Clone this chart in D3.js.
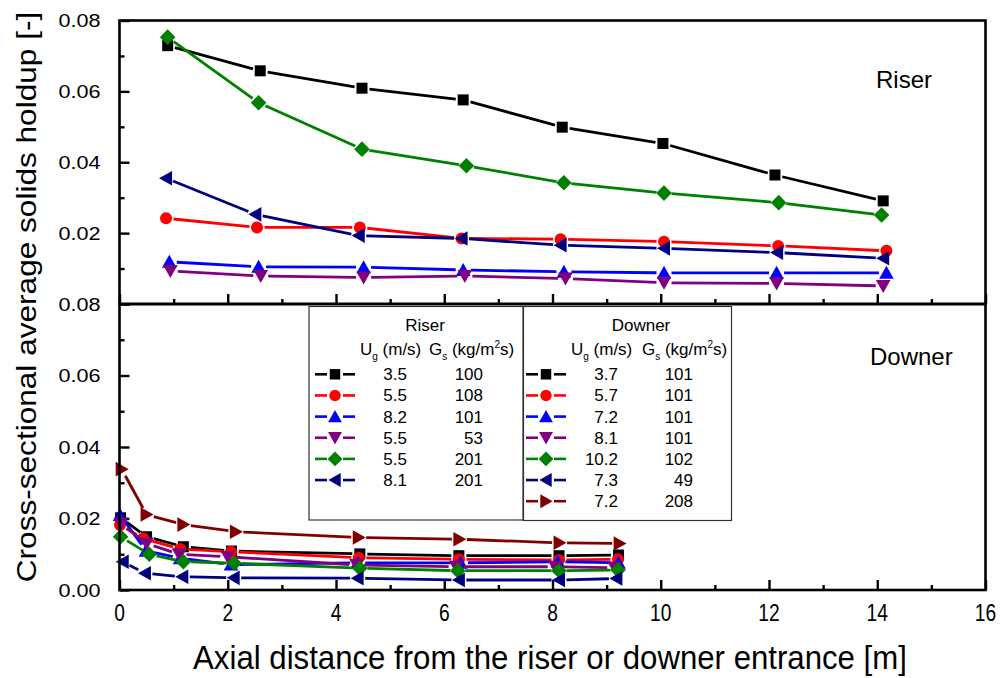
<!DOCTYPE html>
<html>
<head>
<meta charset="utf-8">
<script src="https://cdn.jsdelivr.net/npm/d3@7/dist/d3.min.js"></script>
<style>
  html, body { margin: 0; padding: 0; background: #fff; }
  svg { display: block; font-family: "Liberation Sans", Arial, sans-serif; }
</style>
</head>
<body>
<svg id="chart" width="1003" height="678"></svg>
<script>
// ---- Data: riser (upper panel) ----
const riserBlackX  = [0.89, 2.60, 4.48, 6.35, 8.18, 10.04, 12.11, 14.11];
const riserBlackY  = [0.0729, 0.0658, 0.0609, 0.0576, 0.0499, 0.0453, 0.0364, 0.0291];
const riserRedX    = [0.86, 2.54, 4.44, 6.32, 8.15, 10.06, 12.17, 14.17];
const riserRedY    = [0.0242, 0.0216, 0.0216, 0.0185, 0.0183, 0.0176, 0.0164, 0.0150];
const riserBlueX   = [0.92, 2.57, 4.51, 6.35, 8.21, 10.06, 12.14, 14.17];
const riserBlueY   = [0.0119, 0.0105, 0.0104, 0.0096, 0.0091, 0.0088, 0.0088, 0.0088];
const riserPurpleX = [0.94, 2.61, 4.51, 6.38, 8.24, 10.06, 12.14, 14.11];
const riserPurpleY = [0.0093, 0.0079, 0.0075, 0.0079, 0.0072, 0.0060, 0.0058, 0.0051];
const riserGreenX  = [0.89, 2.57, 4.48, 6.41, 8.21, 10.06, 12.18, 14.08];
const riserGreenY  = [0.0753, 0.0568, 0.0437, 0.0390, 0.0342, 0.0313, 0.0286, 0.0251];
const riserNavyX   = [0.86, 2.51, 4.42, 6.32, 8.15, 10.06, 12.15, 14.11];
const riserNavyY   = [0.0355, 0.0253, 0.0193, 0.0185, 0.0166, 0.0157, 0.0145, 0.0129];

// ---- Data: downer (lower panel) ----
const downerBlackX  = [0.02, 0.50, 1.18, 2.07, 4.44, 6.27, 8.12, 9.22];
const downerBlackY  = [0.0202, 0.0149, 0.0121, 0.0109, 0.0101, 0.0096, 0.0096, 0.0098];
const downerRedX    = [0.01, 0.44, 1.12, 2.06, 4.42, 6.27, 8.12, 9.21];
const downerRedY    = [0.0182, 0.0144, 0.0115, 0.0107, 0.0090, 0.0086, 0.0084, 0.0086];
const downerBlueX   = [0.01, 0.49, 1.12, 2.06, 4.40, 6.30, 8.10, 9.22];
const downerBlueY   = [0.0210, 0.0110, 0.0089, 0.0071, 0.0076, 0.0076, 0.0079, 0.0076];
const downerPurpleX = [0.03, 0.50, 1.10, 2.00, 4.38, 6.22, 8.05, 9.15];
const downerPurpleY = [0.0186, 0.0130, 0.0100, 0.0093, 0.0070, 0.0065, 0.0065, 0.0062];
const downerGreenX  = [0.02, 0.55, 1.18, 2.12, 4.44, 6.25, 8.12, 9.21];
const downerGreenY  = [0.0149, 0.0100, 0.0079, 0.0075, 0.0061, 0.0054, 0.0054, 0.0056];
const downerNavyX   = [0.06, 0.47, 1.16, 2.11, 4.40, 6.27, 8.12, 9.18];
const downerNavyY   = [0.0079, 0.0047, 0.0037, 0.0034, 0.0033, 0.0028, 0.0028, 0.0032];
const downerMaroonX = [0.04, 0.50, 1.18, 2.15, 4.42, 6.28, 8.13, 9.24];
const downerMaroonY = [0.0338, 0.0211, 0.0183, 0.0163, 0.0147, 0.0142, 0.0132, 0.0130];

// ---- Legend entries ----
const riserUg   = ["3.5", "5.5", "8.2", "5.5", "5.5", "8.1"];
const riserGs   = ["100", "108", "101", "53", "201", "201"];
const downerUg  = ["3.7", "5.7", "7.2", "8.1", "10.2", "7.3", "7.2"];
const downerGs  = ["101", "101", "101", "101", "102", "49", "208"];

// ---- Axis ticks ----
const xTicks = [0, 2, 4, 6, 8, 10, 12, 14, 16];
const xMinorTicks = [1, 3, 5, 7, 9, 11, 13, 15];
const yTicks = [0, 0.02, 0.04, 0.06, 0.08];
const yMinorTicks = [0.01, 0.03, 0.05, 0.07];

const colors = {
  black: "#000000", red: "#ff0000", blue: "#0000ff", purple: "#800080",
  green: "#008000", navy: "#000080", maroon: "#800000"
};

const riserSeries = [
  { x: riserBlackX,  y: riserBlackY,  color: colors.black,  shape: "square" },
  { x: riserRedX,    y: riserRedY,    color: colors.red,    shape: "circle" },
  { x: riserBlueX,   y: riserBlueY,   color: colors.blue,   shape: "up" },
  { x: riserPurpleX, y: riserPurpleY, color: colors.purple, shape: "down" },
  { x: riserGreenX,  y: riserGreenY,  color: colors.green,  shape: "diamond" },
  { x: riserNavyX,   y: riserNavyY,   color: colors.navy,   shape: "left" }
];
const downerSeries = [
  { x: downerBlackX,  y: downerBlackY,  color: colors.black,  shape: "square" },
  { x: downerRedX,    y: downerRedY,    color: colors.red,    shape: "circle" },
  { x: downerBlueX,   y: downerBlueY,   color: colors.blue,   shape: "up" },
  { x: downerPurpleX, y: downerPurpleY, color: colors.purple, shape: "down" },
  { x: downerGreenX,  y: downerGreenY,  color: colors.green,  shape: "diamond" },
  { x: downerNavyX,   y: downerNavyY,   color: colors.navy,   shape: "left" },
  { x: downerMaroonX, y: downerMaroonY, color: colors.maroon, shape: "right" }
];

// ---- Geometry ----
const svg = d3.select("#chart");
const left = 119.5, right = 985.5;
const topPanel = { top: 20.5, bottom: 304 };
const botPanel = { top: 304, bottom: 590 };

const x = d3.scaleLinear().domain([0, 16]).range([left, right]);
const yTop = d3.scaleLinear().domain([0, 0.08]).range([topPanel.bottom, topPanel.top]);
const yBot = d3.scaleLinear().domain([0, 0.08]).range([botPanel.bottom, botPanel.top]);

// marker outlines centred on (0,0)
function markerPath(shape) {
  switch (shape) {
    case "square":  return "M-5.5,-5.5H5.5V5.5H-5.5Z";
    case "circle":  return d3.symbol(d3.symbolCircle, Math.PI * 6 * 6)();
    case "up":      return "M0,-7L7.3,6L-7.3,6Z";
    case "down":    return "M0,7L7.3,-6L-7.3,-6Z";
    case "left":    return "M-7,0L6,-7.3L6,7.3Z";
    case "right":   return "M7,0L-6,-7.3L-6,7.3Z";
    case "diamond": return "M0,-7.8L7.8,0L0,7.8L-7.8,0Z";
  }
}

const GAP = 7.5; // line is broken around each symbol

function drawSeries(g, s, yScale) {
  const pts = s.x.map((v, i) => [x(v), yScale(s.y[i])]);
  const segs = [];
  for (let i = 0; i < pts.length - 1; i++) {
    const [x1, y1] = pts[i], [x2, y2] = pts[i + 1];
    const len = Math.hypot(x2 - x1, y2 - y1);
    if (len <= 2 * GAP) continue;
    const ux = (x2 - x1) / len, uy = (y2 - y1) / len;
    segs.push([[x1 + ux * GAP, y1 + uy * GAP], [x2 - ux * GAP, y2 - uy * GAP]]);
  }
  const line = d3.line();
  g.append("g").selectAll("path").data(segs).join("path")
    .attr("d", d => line(d))
    .attr("fill", "none").attr("stroke", s.color).attr("stroke-width", 2.8);
  g.append("g").selectAll("path").data(pts).join("path")
    .attr("transform", d => `translate(${d[0]},${d[1]})`)
    .attr("d", markerPath(s.shape))
    .attr("fill", s.color);
}

function drawPanel(panel, yScale, series, showZeroLabel) {
  const g = svg.append("g");
  // inward ticks on the bottom axis
  const xAx = d3.axisTop(x).tickValues(xTicks).tickSize(10).tickFormat("");
  const xAxMinor = d3.axisTop(x).tickValues(xMinorTicks).tickSize(5).tickFormat("");
  g.append("g").attr("transform", `translate(0,${panel.bottom})`).call(xAx)
    .call(a => a.select(".domain").remove())
    .selectAll("line").attr("stroke", "#000").attr("stroke-width", 2.4);
  g.append("g").attr("transform", `translate(0,${panel.bottom})`).call(xAxMinor)
    .call(a => a.select(".domain").remove())
    .selectAll("line").attr("stroke", "#000").attr("stroke-width", 2.4);
  // inward ticks on the left axis
  const yAx = d3.axisRight(yScale).tickValues(yTicks).tickSize(10).tickFormat("");
  const yAxMinor = d3.axisRight(yScale).tickValues(yMinorTicks).tickSize(5).tickFormat("");
  g.append("g").attr("transform", `translate(${left},0)`).call(yAx)
    .call(a => a.select(".domain").remove())
    .selectAll("line").attr("stroke", "#000").attr("stroke-width", 2.4);
  g.append("g").attr("transform", `translate(${left},0)`).call(yAxMinor)
    .call(a => a.select(".domain").remove())
    .selectAll("line").attr("stroke", "#000").attr("stroke-width", 2.4);

  // tick labels (wide face)
  const labels = showZeroLabel ? yTicks : yTicks.filter(v => v > 0);
  g.append("g").selectAll("text").data(labels).join("text")
    .attr("transform", v => `translate(100.5,${yScale(v) + 6.5}) scale(1.2,1)`)
    .attr("text-anchor", "end").attr("font-size", 18).attr("fill", "#000")
    .text(v => d3.format(".2f")(v));

  const plot = g.append("g");
  series.forEach(s => drawSeries(plot, s, yScale));

  // frame
  g.append("rect").attr("x", left).attr("y", panel.top)
    .attr("width", right - left).attr("height", panel.bottom - panel.top)
    .attr("fill", "none").attr("stroke", "#000").attr("stroke-width", 2.6);
}

drawPanel(topPanel, yTop, riserSeries, false);
drawPanel(botPanel, yBot, downerSeries, true);

// bottom axis labels (narrow face)
svg.append("g").selectAll("text").data(xTicks).join("text")
  .attr("transform", v => `translate(${x(v)},621) scale(0.8,1)`)
  .attr("text-anchor", "middle").attr("font-size", 24).attr("fill", "#000")
  .text(v => v);

// axis titles
svg.append("text")
  .attr("transform", "translate(550,669) scale(0.945,1)")
  .attr("text-anchor", "middle").attr("font-size", 33).attr("fill", "#000")
  .text("Axial distance from the riser or downer entrance [m]");

svg.append("text")
  .attr("transform", "translate(36,297) rotate(-90) scale(1.17,1)")
  .attr("text-anchor", "middle").attr("font-size", 27).attr("fill", "#000")
  .text("Cross-sectional average solids holdup [-]");

// panel captions
svg.append("text").attr("x", 876).attr("y", 88).attr("font-size", 24).text("Riser");
svg.append("text").attr("x", 870).attr("y", 365).attr("font-size", 24).text("Downer");

// ---- Legends ----
const LF = 17; // legend font size
function drawLegend(opts) {
  const g = svg.append("g");
  g.append("rect").attr("x", opts.x0).attr("y", opts.y0)
    .attr("width", opts.w).attr("height", opts.h)
    .attr("fill", "#fff").attr("stroke", "#333").attr("stroke-width", 1.2);
  g.append("text").attr("x", opts.titleX).attr("y", opts.y0 + 24.5)
    .attr("text-anchor", "middle").attr("font-size", LF).text(opts.title);
  const hdrY = opts.y0 + 48.5;
  const ug = g.append("text").attr("x", opts.ugX).attr("y", hdrY).attr("font-size", LF);
  ug.append("tspan").text("U");
  ug.append("tspan").attr("font-size", 10).attr("dy", 4.5).text("g");
  ug.append("tspan").attr("dy", -4.5).text(" (m/s)");
  const gs = g.append("text").attr("x", opts.gsX).attr("y", hdrY).attr("font-size", LF);
  gs.append("tspan").text("G");
  gs.append("tspan").attr("font-size", 10).attr("dy", 4.5).text("s");
  gs.append("tspan").attr("dy", -4.5).text(" (kg/m");
  gs.append("tspan").attr("font-size", 10).attr("dy", -7).text("2");
  gs.append("tspan").attr("dy", 7).text("s)");

  const rowY = i => opts.y0 + 67.8 + i * 21.15;
  opts.series.forEach((s, i) => {
    const cy = rowY(i);
    g.append("line").attr("x1", opts.symX - 20).attr("x2", opts.symX - 8)
      .attr("y1", cy).attr("y2", cy).attr("stroke", s.color).attr("stroke-width", 2.6);
    g.append("line").attr("x1", opts.symX + 8).attr("x2", opts.symX + 20)
      .attr("y1", cy).attr("y2", cy).attr("stroke", s.color).attr("stroke-width", 2.6);
    g.append("path").attr("transform", `translate(${opts.symX},${cy}) scale(0.95)`)
      .attr("d", markerPath(s.shape)).attr("fill", s.color);
    g.append("text").attr("x", opts.ugR).attr("y", cy + 6)
      .attr("text-anchor", "end").attr("font-size", LF).text(opts.ug[i]);
    g.append("text").attr("x", opts.gsR).attr("y", cy + 6)
      .attr("text-anchor", "end").attr("font-size", LF).text(opts.gs[i]);
  });
}

drawLegend({
  x0: 309, y0: 306.5, w: 214, h: 213.5, title: "Riser", titleX: 425,
  ugX: 360, gsX: 429, symX: 335, ugR: 407, gsR: 483,
  series: riserSeries, ug: riserUg, gs: riserGs
});
drawLegend({
  x0: 523.5, y0: 306.5, w: 208, h: 214, title: "Downer", titleX: 641,
  ugX: 571, gsX: 642, symX: 546, ugR: 618, gsR: 693,
  series: downerSeries, ug: downerUg, gs: downerGs
});
</script>
</body>
</html>
